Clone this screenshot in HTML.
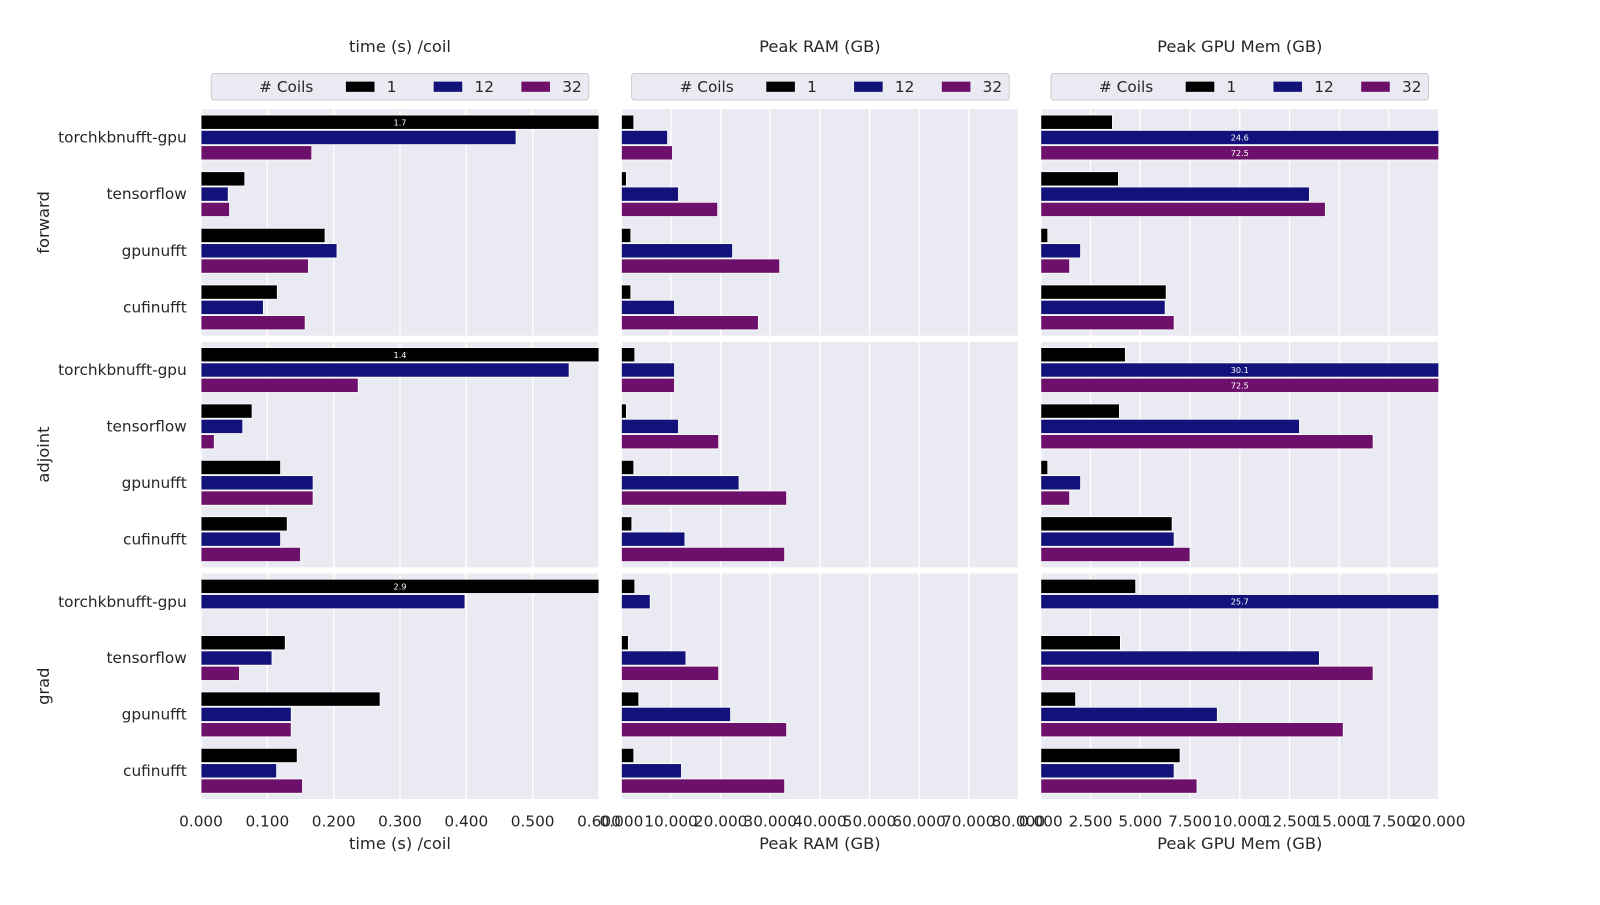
<!DOCTYPE html>
<html><head><meta charset="utf-8"><style>
body{margin:0;background:#fff;font-family:"Liberation Sans","DejaVu Sans",sans-serif;}
svg text{font-family:"DejaVu Sans","Liberation Sans",sans-serif;fill:#262626;}
</style></head><body>
<svg id="c" width="1600" height="900" xmlns="http://www.w3.org/2000/svg"><g id="root" transform="scale(1.0204)"></g></svg>
<script>
const methods = ["torchkbnufft-gpu","tensorflow","gpunufft","cufinufft"];
const ops = ["forward","adjoint","grad"];
const coils = ["1","12","32"];
// time (s) /coil  [op][method][coil]
const timeVals = [
 [[1.7,0.475,0.167],[0.066,0.041,0.043],[0.187,0.205,0.162],[0.115,0.094,0.157]],
 [[1.4,0.555,0.237],[0.077,0.063,0.02],[0.12,0.169,0.169],[0.13,0.12,0.15]],
 [[2.9,0.398,null],[0.127,0.107,0.058],[0.27,0.136,0.136],[0.145,0.114,0.153]]
];
const ramVals = [
 [[2.5,9.3,10.3],[1.0,11.5,19.4],[1.9,22.4,31.9],[1.9,10.7,27.6]],
 [[2.7,10.7,10.7],[1.0,11.5,19.6],[2.5,23.7,33.3],[2.1,12.8,32.9]],
 [[2.7,5.8,null],[1.4,13.0,19.6],[3.5,22.0,33.3],[2.5,12.1,32.9]]
];
const gpuVals = [
 [[3.6,24.6,72.5],[3.9,13.5,14.3],[0.35,2.0,1.45],[6.3,6.25,6.7]],
 [[4.25,30.1,72.5],[3.95,13.0,16.7],[0.35,2.0,1.45],[6.6,6.7,7.5]],
 [[4.77,25.7,null],[4.0,14.0,16.7],[1.75,8.87,15.2],[7.0,6.7,7.85]]
];
const timeTicks = [0,0.1,0.2,0.3,0.4,0.5,0.6];
const ramTicks = [0,10,20,30,40,50,60,70,80];
const gpuTicks = [0,2.5,5,7.5,10,12.5,15,17.5,20];
const titles = ["time (s) /coil","Peak RAM (GB)","Peak GPU Mem (GB)"];
const colors = ["#000000","#12127a","#6c106c"];

const svg = document.getElementById('root');
const NS = "http://www.w3.org/2000/svg";
function mk(tag, attrs, parent){const e=document.createElementNS(NS,tag);for(const k in attrs)e.setAttribute(k,attrs[k]);(parent||svg).appendChild(e);return e;}

const cols = [
 {x0:197,x1:587,max:0.6,vals:timeVals,ticks:timeTicks,fmt:v=>v.toFixed(3)},
 {x0:609,x1:998,max:80,vals:ramVals,ticks:ramTicks,fmt:v=>v.toFixed(3)},
 {x0:1020,x1:1410,max:20,vals:gpuVals,ticks:gpuTicks,fmt:v=>v.toFixed(3)}
];
const rows = [{y0:107,y1:329},{y0:335,y1:556},{y0:562,y1:783}];

cols.forEach((c,ci)=>{
 const xs = v=>c.x0+(c.x1-c.x0)*v/c.max;
 let t=mk('text',{x:(c.x0+c.x1)/2,y:51,'text-anchor':'middle','font-size':16});
 t.textContent=titles[ci];
 
 
 const lx=c.x0+10;
 const lg=mk('g',{});
 
 
 mk('rect',{x:lx,y:72,width:370,height:26,rx:3,fill:'#eaeaf2',stroke:'#cccccc'},lg);
 let lt=mk('text',{x:lx+47,y:90,'font-size':15},lg);lt.textContent='# Coils';
 coils.forEach((n,k)=>{
  const bx=lx+132+k*86;
  const r=mk('rect',{x:bx,y:80,width:28,height:10,fill:colors[k]},lg);
  
  
  const tt=mk('text',{x:bx+40,y:90,'font-size':15},lg);tt.textContent=n;
 });
 rows.forEach((r,ri)=>{
  const g=mk('g',{});
  
  
  mk('rect',{x:c.x0,y:r.y0,width:c.x1-c.x0,height:r.y1-r.y0,fill:'#eaeaf2'},g);
  c.ticks.forEach(tv=>{mk('line',{x1:xs(tv),x2:xs(tv),y1:r.y0,y2:r.y1,stroke:'#fff','stroke-width':1.3},g);});
  const gh=(r.y1-r.y0)/4;
  methods.forEach((m,mi)=>{
   const cy=r.y0+gh*(mi+0.5);
   if(ci===0){
    const yl=mk('text',{x:183,y:cy+5,'text-anchor':'end','font-size':15});
    yl.textContent=m;
    
    
   }
   coils.forEach((n,k)=>{
    const v=c.vals[ri][mi][k];
    if(v==null)return;
    const by=cy+(k-1)*15-7;
    const w=xs(Math.min(v,c.max))-c.x0;
    const b=mk('rect',{x:c.x0,y:by,width:w,height:14,fill:colors[k],stroke:'#fff','stroke-width':0.8},g);
    
    
    if(v>c.max){
     const lb=mk('text',{x:(c.x0+c.x1)/2,y:by+10,'text-anchor':'middle','font-size':8,style:'fill:#fff'},g);
     lb.textContent=v.toFixed(1);
    }
   });
  });
 });
 c.ticks.forEach(tv=>{
  const tl=mk('text',{x:xs(tv),y:810,'text-anchor':'middle','font-size':15});
  tl.textContent=c.fmt(tv);
  
  
 });
 const xt=mk('text',{x:(c.x0+c.x1)/2,y:832,'text-anchor':'middle','font-size':16});
 xt.textContent=titles[ci];
 
 
});
rows.forEach((r,ri)=>{
 const cy=(r.y0+r.y1)/2;
 const t=mk('text',{x:48,y:cy,'text-anchor':'middle','font-size':16,transform:`rotate(-90 48 ${cy})`});
 t.textContent=ops[ri];
 
 
});
</script>
</body></html>
